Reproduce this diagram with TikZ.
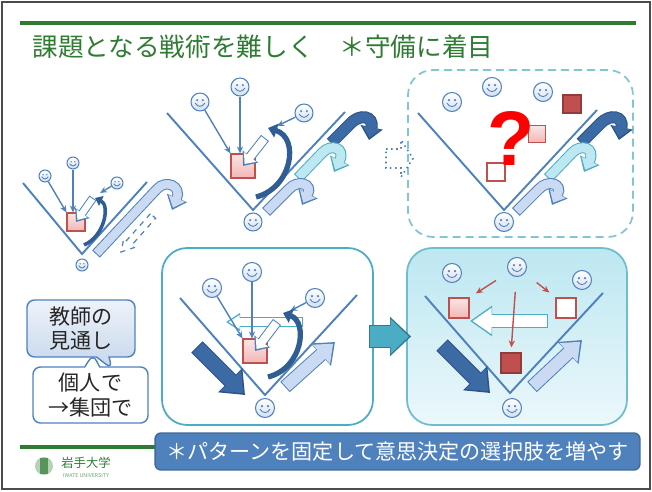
\documentclass[tikz,border=0pt]{standalone}
\usepackage{fontspec}
\setmainfont{Noto Sans CJK JP}
\newfontfamily\qmfont{Liberation Sans}
\usetikzlibrary{arrows.meta, positioning, shapes.callouts}

\definecolor{kgreen}{HTML}{2E7B32}
\definecolor{kblue}{HTML}{4F81BD}
\definecolor{kdark}{HTML}{3C6AA5}
\definecolor{kdarkbd}{HTML}{2B5383}
\definecolor{kcurve}{HTML}{2F5D94}
\definecolor{klight}{HTML}{C9DAF2}
\definecolor{kteal}{HTML}{4BACC6}
\definecolor{kcyan}{HTML}{BDE7F1}
\definecolor{kred}{HTML}{C0504D}
\definecolor{kpink}{HTML}{F2B6B5}
\definecolor{kface}{HTML}{D3E0F1}

\tikzset{
  vline/.style={kblue, line width=1.1pt},
  face/.style={circle, draw=kblue, line width=0.6pt, top color=white, bottom color=kface,
    inner sep=0pt, minimum size=#1*0.02cm,
    path picture={
      \begin{scope}[shift={(path picture bounding box.center)}]
        \fill[kblue] (-0.16*#1,-0.1*#1) circle (0.065*#1);
        \fill[kblue] (0.16*#1,-0.1*#1) circle (0.065*#1);
        \draw[kblue, line width=0.5pt] (-0.27*#1,0.06*#1) .. controls (-0.12*#1,0.3*#1) and (0.12*#1,0.3*#1) .. (0.27*#1,0.06*#1);
      \end{scope}}},
  face/.default=19,
  sq/.style={draw=kred, line width=0.6pt, inner sep=0pt, minimum size=#1*0.02cm},
  pinksq/.style={sq=#1, top color=kpink!35, bottom color=kpink},
  whitesq/.style={sq=#1, fill=white, line width=0.9pt},
  darksq/.style={sq=#1, fill=kred, draw=kred!75!black},
  pass/.style={kblue, line width=0.8pt, -{Stealth[length=4pt, width=3.5pt]}},
  redpass/.style={kred, line width=0.8pt, -{Stealth[length=4pt, width=3.5pt]}},
  turn/.style={kcurve, line width=3pt, -{Triangle[width=8pt, length=5pt]}},
  turn small/.style={kcurve, line width=2pt, -{Triangle[width=6pt, length=4pt]}},
  panel/.style={rounded corners=0.5cm, line width=1pt, minimum height=3.54cm},
  bubble/.style={rectangle callout, rounded corners=0.15cm, draw=kblue, line width=0.8pt,
    align=center, font=\fontsize{12}{14.2}\selectfont, text=black!85}
}

% thick outlined arrow: fill, border, shaft, head width, head length, path
\newcommand{\band}[6]{%
  \pgfmathsetlengthmacro\bandout{#3+0.04cm}%
  \pgfmathsetlengthmacro\headout{#4+0.08cm}%
  \pgfmathsetlengthmacro\lenout{#5+0.06cm}%
  \draw[#2, line width=\bandout, -{Triangle[width=\headout, length=\lenout]}] #6;
  \draw[#1, line width=#3, shorten <=0.02cm, shorten >=0.05cm, -{Triangle[width=#4, length=#5]}] #6;}

% the three turning runs along the right side
\newcommand{\uturnset}{%
  \band{kdark}{kdarkbd}{0.2cm}{0.36cm}{0.2cm}{(331,143) -- (350,124) .. controls (360,113) and (374,116) .. (369,140)}
  \band{kcyan}{kteal}{0.18cm}{0.34cm}{0.2cm}{(298,178) -- (322,153) .. controls (331,143) and (346,148) .. (334,172)}
  \band{klight}{kblue}{0.18cm}{0.34cm}{0.2cm}{(266,212) -- (289,189) .. controls (298,179) and (313,184) .. (302,205)}}

\begin{document}
\begin{tikzpicture}[x=0.02cm, y=-0.02cm]
\useasboundingbox (0,0) rectangle (652,492);
\draw[black!70, line width=1.4pt] (2,2) rectangle (650,489);

% header
\draw[kgreen, line width=2.2pt] (20,23) -- (636,23);
\node[anchor=west, inner sep=0pt, text=kgreen, font=\fontsize{14.6}{16}\selectfont] (title) at (32,47) {課題となる戦術を難しく　＊守備に着目};

% panels
\node[panel, draw=kteal!70, dash pattern=on 0.16cm off 0.1cm, minimum width=4.5cm, minimum height=3.34cm] (qbox) at (520.5,153.5) {};
\node[panel, draw=kteal, fill=white, minimum width=4.22cm] (boxA) at (267.5,336.5) {};
\node[panel, draw=kteal!80, top color=kcyan, bottom color=kcyan!30, minimum width=4.4cm] (boxB) at (517,336.5) {};

% --- small court ---
\draw[vline] (23,183) -- (82,254) -- (147,182);
\node[face=12] (s1) at (45,176) {};
\node[face=12] (s2) at (73,163) {};
\node[face=12] (s3) at (117,183) {};
\node[face=12] (s4) at (82,265) {};
\node[pinksq=18] (ssq) at (76,222) {};
\draw[pass] (s1) -- (ssq.north west);
\draw[pass] (s2) -- (s2 |- ssq.north);
\coordinate (sc) at (100,193);
\draw[pass] (s3) -- (sc);
\band{white}{kblue}{0.13cm}{0.26cm}{0.16cm}{(93,198) -- (ssq.center)}
\draw[turn small] (84,245) .. controls (105,236) and (110,205) .. (95,198);
\band{klight}{kblue}{0.17cm}{0.34cm}{0.2cm}{(96,254) -- (157,189) .. controls (166,179) and (182,186) .. (172,210)}
\draw[kblue, dashed, line width=0.7pt, fill=white] (150.4,213.7) -- (126.4,240.7) -- (123.8,238.4) -- (121,252)
  -- (134.2,247.6) -- (131.6,245.3) -- (155.6,218.3) -- cycle;

% --- middle court ---
\draw[vline] (167,113) -- (253,210) -- (345,112);
\node[face=18] (t1) at (200,102) {};
\node[face=18] (t2) at (240,87) {};
\node[face=18] (t3) at (304,113) {};
\node[face=18] (t4) at (253,222) {};
\node[pinksq=24] (tsq) at (243,166) {};
\draw[pass] (t1) -- (tsq.north west);
\draw[pass] (t2) -- (t2 |- tsq.north);
\coordinate (tc) at (277,126);
\draw[pass] (t3) -- (tc);
\band{white}{kblue}{0.16cm}{0.3cm}{0.18cm}{(265,138) -- (tsq.center)}
\draw[turn] (256,197) .. controls (292,188) and (300,138) .. (268,128);
\uturnset

% --- dotted hint arrow ---
\draw[kblue, dotted, line width=0.9pt] (386,149) -- (401,149) -- (401,140) -- (413,158.5) -- (401,177) -- (401,168) -- (386,168) -- cycle;

% --- open question court ---
\draw[vline] (418,113) -- (504,210) -- (597,110);
\node[face=19] (q1) at (452,102) {};
\node[face=19] (q2) at (492,87) {};
\node[face=19] (q3) at (543,92) {};
\node[face=19] (q4) at (504,222) {};
\node[darksq=18] (qsq1) at (572,104) {};
\node[pinksq=17] (qsq2) at (537,134) {};
\node[whitesq=18] (qsq3) at (496,172) {};
\node[inner sep=0pt, text=red, font=\qmfont\bfseries\fontsize{44}{44}\selectfont] (qm) at (511,139) {?};
\begin{scope}[xshift=5cm]
  \uturnset
\end{scope}

% --- panel A ---
\draw[vline] (180,298) -- (265,395) -- (357,295);
\node[face=19] (a1) at (212,288) {};
\node[face=19] (a2) at (252,272) {};
\node[face=19] (a3) at (315,298) {};
\node[face=19] (a4) at (265,408) {};
\band{white}{kteal}{0.15cm}{0.26cm}{0.22cm}{(303,322) -- (226,322)}
\node[pinksq=24] (asq) at (255,351) {};
\draw[pass] (a1) -- (asq.north west);
\draw[pass] (a2) -- (a2 |- asq.north);
\coordinate (ac) at (290,311);
\draw[pass] (a3) -- (ac);
\band{white}{kblue}{0.16cm}{0.3cm}{0.18cm}{(277,322) -- (asq.center)}
\draw[turn] (268,377) .. controls (303,368) and (308,322) .. (283,313);
\band{kdark}{kdarkbd}{0.28cm}{0.58cm}{0.36cm}{(197,347) -- (245,395)}
\band{klight}{kblue}{0.24cm}{0.5cm}{0.32cm}{(285,387) -- (335,342)}

% --- panel B ---
\draw[vline] (425,296) -- (510,393) -- (603,293);
\node[face=19] (b1) at (452,273) {};
\node[face=19] (b2) at (517,267) {};
\node[face=19] (b3) at (582,280) {};
\node[face=19] (b4) at (512,408) {};
\node[pinksq=20] (bsq1) at (459,308) {};
\node[whitesq=20] (bsq2) at (566,308) {};
\node[darksq=20] (bsq3) at (511,363) {};
\draw[redpass, shorten <=0.3cm, shorten >=0.15cm] (b2) -- (bsq1.north east);
\draw[redpass, shorten <=0.3cm, shorten >=0.15cm] (b2) -- (bsq2.north west);
\band{white}{kteal}{0.24cm}{0.5cm}{0.38cm}{(548,321) -- (470,321)}
\draw[redpass, shorten <=0.3cm, shorten >=0.1cm] (b2) -- (bsq3.north);
\band{kdark}{kdarkbd}{0.28cm}{0.58cm}{0.36cm}{(442,345) -- (490,393)}
\band{klight}{kblue}{0.24cm}{0.5cm}{0.32cm}{(532,387) -- (582,340)}

% panel A leads to panel B
\band{kteal}{kteal!70!black}{0.42cm}{0.68cm}{0.36cm}{([xshift=-0.1cm]boxA.east) -- ([xshift=0.1cm]boxB.west)}

% --- teacher notes ---
\node[bubble, top color=kface!40, bottom color=kface!90!kblue, minimum width=2.16cm, minimum height=1.14cm,
  callout absolute pointer={(112,369)}] (plan) at (81,328.5) {教師の\\見通し};
\node[bubble, fill=white, minimum width=2.3cm, minimum height=1.12cm, callout pointer width=0.3cm,
  callout absolute pointer={(93,354)}] (shift) at (90.5,395) {個人で\\→集団で};

% --- footer ---
\draw[kgreen, line width=2pt] (20,447) -- (160,447);
\node[rounded corners=0.12cm, fill=kblue, draw=kblue!80!black, line width=0.8pt, minimum width=9.7cm, minimum height=0.74cm,
  text=white, font=\fontsize{12}{14}\selectfont] (banner) at (397.5,451.5) {＊パターンを固定して意思決定の選択肢を増やす};
\fill[kgreen!35] (44,466) circle (9);
\fill[kgreen!80] (40,458) rectangle (48,474);
\node[inner sep=0pt, text=kgreen, font=\fontsize{7}{8}\selectfont] (logo) at (86,463) {岩手大学};
\node[inner sep=0pt, text=kgreen!70, font=\fontsize{3}{3}\selectfont, below=0.08cm of logo] (logoen) {IWATE UNIVERSITY};
\end{tikzpicture}
\end{document}
